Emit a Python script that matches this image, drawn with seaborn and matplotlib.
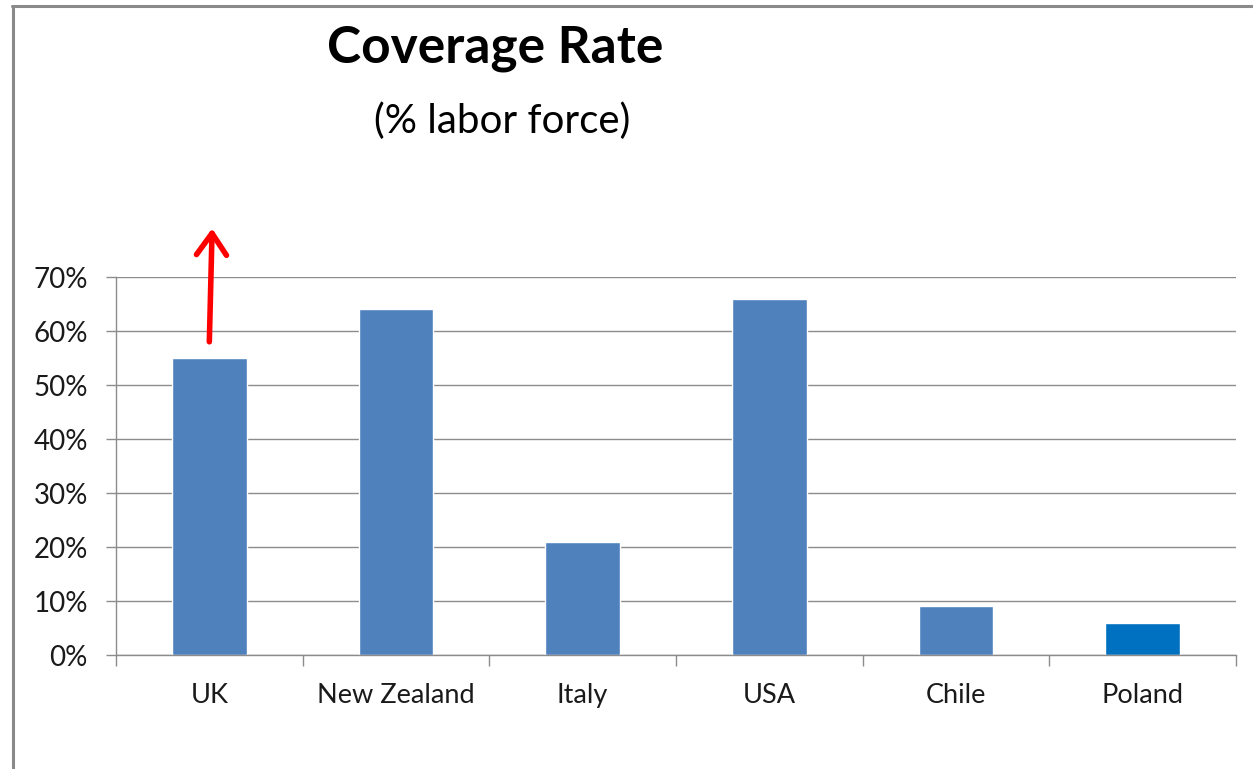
import matplotlib
matplotlib.use("Agg")
import matplotlib.pyplot as plt
import seaborn as sns
import pandas as pd
from matplotlib.lines import Line2D
from matplotlib.ticker import PercentFormatter

countries = ["UK", "New Zealand", "Italy", "USA", "Chile", "Poland"]
coverage = [55, 64, 21, 66, 9, 6]
bar_colors = ["#4F81BD", "#4F81BD", "#4F81BD", "#4F81BD", "#4F81BD", "#0070C0"]
y_ticks = [0, 10, 20, 30, 40, 50, 60, 70]
arrow_from = (0, 58)
arrow_to = (0.015, 79)

sns.set_theme(style="white")
plt.rcParams['font.family'] = ['Lato', 'DejaVu Sans']

df = pd.DataFrame({"country": countries, "coverage": coverage})

fig = plt.figure(figsize=(12.53, 7.69), dpi=100)
ax = fig.add_axes([116/1253, 1-655/769, (1236-116)/1253, (655-277)/769])

sns.barplot(data=df, x="country", y="coverage", hue="country", palette=bar_colors,
            width=0.4, legend=False, ax=ax, saturation=1)

ax.set_xlim(-0.5, len(countries) - 0.5)
ax.set_ylim(0, 70)
ax.set_yticks(y_ticks)
ax.yaxis.set_major_formatter(PercentFormatter(decimals=0))
ax.set_xlabel("")
ax.set_ylabel("")
ax.grid(axis="y", color="#8c8c8c", linewidth=1.0)
ax.set_axisbelow(True)
for s in ["top", "right"]:
    ax.spines[s].set_visible(False)
for s in ["left", "bottom"]:
    ax.spines[s].set_color("#8c8c8c")
    ax.spines[s].set_linewidth(1.0)

ax.set_xticks(range(len(countries)))
ax.set_xticklabels(countries)
ax.tick_params(axis="x", length=0, pad=20, labelsize=19.5, labelcolor="#1a1a1a")
ax.tick_params(axis="y", left=True, length=7.2, width=1.0, color="#8c8c8c",
               pad=13, labelsize=20, labelcolor="#1a1a1a")
# category boundary ticks
ax.set_xticks([i - 0.5 for i in range(len(countries) + 1)], minor=True)
ax.tick_params(axis="x", which="minor", bottom=True, length=8, width=1.0, color="#8c8c8c")

ax.annotate("", xy=arrow_to, xytext=arrow_from, xycoords="data", textcoords="data",
            annotation_clip=False,
            arrowprops=dict(arrowstyle="->,head_length=1.3,head_width=0.9", color="red",
                            lw=4, shrinkA=0, shrinkB=0))

fig.text(495/1253, 1-48/769, "Coverage Rate", ha="center", va="center",
         fontsize=37, fontweight="bold", color="black")
fig.text(502/1253, 1-121/769, "(% labor force)", ha="center", va="center",
         fontsize=29, color="black")

# frame lines at the top and left of the picture
fig.add_artist(Line2D([13/1253, 13/1253], [0, 1-6/769], transform=fig.transFigure,
                      color="#8a8a8a", linewidth=2.2))
fig.add_artist(Line2D([12/1253, 1], [1-6/769, 1-6/769], transform=fig.transFigure,
                      color="#8a8a8a", linewidth=2.2))

fig.savefig("out.png", dpi=100)
